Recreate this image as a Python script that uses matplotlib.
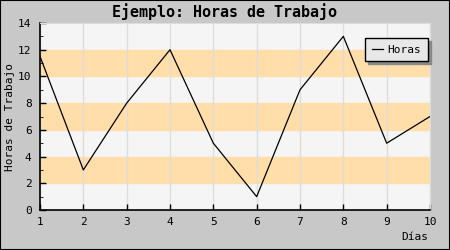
import matplotlib
matplotlib.use('Agg')
import matplotlib.pyplot as plt
from matplotlib.ticker import MultipleLocator
from matplotlib.patches import Rectangle

# Datos
dias = [1, 2, 3, 4, 5, 6, 7, 8, 9, 10]
horas = [11.5, 3, 8, 12, 5, 1, 9, 13, 5, 7]
bandas = [(2, 4), (6, 8), (10, 12)]

plt.rcParams['font.family'] = 'DejaVu Sans Mono'
plt.rcParams['font.size'] = 8

fig = plt.figure(figsize=(4.5, 2.5), dpi=100, facecolor='#c8c8c8')
fig.patches.append(Rectangle((0, 0), 1, 1, transform=fig.transFigure,
                             fill=False, edgecolor='black', linewidth=1.5))
ax = fig.add_axes([40 / 450, 40 / 250, 390 / 450, 187 / 250])
ax.set_facecolor('#f5f5f5')

for lo, hi in bandas:
    ax.axhspan(lo, hi, color='#ffdeaa', zorder=0)
for d in dias:
    ax.axvline(d, color='#dddddd', linewidth=1, zorder=0.5)

ax.plot(dias, horas, color='black', linewidth=0.9, label='Horas', zorder=3)

ax.set_xlim(1, 10)
ax.set_ylim(0, 14)
ax.set_xticks(dias)
ax.yaxis.set_major_locator(MultipleLocator(2))
ax.yaxis.set_minor_locator(MultipleLocator(1))
ax.tick_params(axis='both', direction='in', length=4, width=1, color='black', pad=6)
ax.tick_params(axis='y', which='minor', direction='in', length=2)
ax.tick_params(axis='x', pad=5)

for s in ['top', 'right']:
    ax.spines[s].set_color('#dddddd')
for s in ['left', 'bottom']:
    ax.spines[s].set_linewidth(1.2)

fig.text(0.5, 1 - 12 / 250, 'Ejemplo: Horas de Trabajo', ha='center', va='center',
         fontsize=10.8, fontweight='bold')
fig.text(10 / 450, 1 - 117 / 250, 'Horas de Trabajo', ha='center', va='center',
         rotation=90)
fig.text(428 / 450, 1 - 237 / 250, 'Días', ha='right', va='center')

leg = ax.legend(loc='upper right', bbox_to_anchor=(0.995, 0.92), borderaxespad=0,
                fancybox=False, shadow={'color': '#888888', 'alpha': 1},
                framealpha=1, facecolor='#e8e8e8', edgecolor='black',
                handlelength=1.0, handletextpad=0.4, borderpad=0.6)
leg.get_frame().set_linewidth(1)

fig.savefig('out.png', dpi=100, facecolor=fig.get_facecolor())
